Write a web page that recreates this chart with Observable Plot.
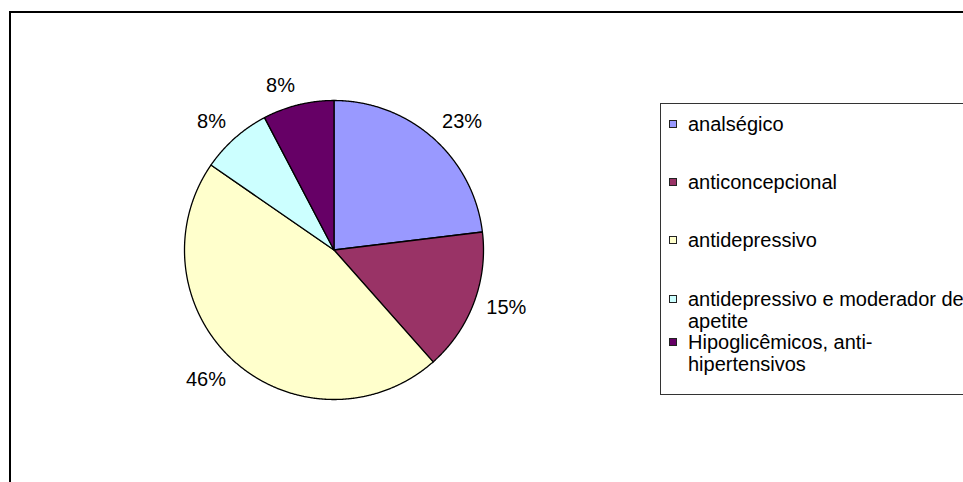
<!DOCTYPE html>
<html>
<head>
<meta charset="utf-8">
<script src="https://cdn.jsdelivr.net/npm/d3@7"></script>
<script src="https://cdn.jsdelivr.net/npm/@observablehq/plot@0.6"></script>
<style>
  html, body { margin: 0; padding: 0; background: #fff; overflow: hidden; width: 963px; height: 482px; }
  #wrap { position: relative; width: 963px; height: 482px; overflow: hidden; font-family: Arial, "Liberation Sans", sans-serif; }
  #chart { position: absolute; left: 0; top: 0; }
  #frame { position: absolute; left: 9px; top: 11px; width: 1000px; height: 520px; border: 2px solid #000; box-sizing: border-box; pointer-events: none; }
  #legend { position: absolute; left: 660px; top: 103px; width: 330px; height: 292px; border: 1px solid #333; box-sizing: border-box; background: #fff; }
  .entry { position: absolute; left: 27px; width: 285px; font-size: 20px; line-height: 22px; color: #000; }
  .sw { position: absolute; left: -19px; top: 6.5px; width: 8px; height: 8px; border: 1px solid #222; box-sizing: border-box; }
</style>
</head>
<body>
<div id="wrap">
  <div id="chart"></div>
  <div id="legend"></div>
  <div id="frame"></div>
</div>
<script>
const categories = ["analségico", "anticoncepcional", "antidepressivo", "antidepressivo e moderador de apetite", "Hipoglicêmicos, anti-hipertensivos"];
const counts = [3, 2, 6, 1, 1];
const colors = ["#9999FF", "#993366", "#FFFFCC", "#CCFFFF", "#660066"];

const total = d3.sum(counts);
const arcs = d3.pie().sort(null)(counts);

const slices = arcs.map((a, i) => {
  const ring = [[0, 0]];
  const n = Math.max(2, Math.ceil((a.endAngle - a.startAngle) / 0.005));
  for (let k = 0; k <= n; k++) {
    const t = a.startAngle + (a.endAngle - a.startAngle) * k / n;
    ring.push([Math.sin(t), Math.cos(t)]);
  }
  ring.push([0, 0]);
  return {type: "Feature", properties: {name: categories[i], color: colors[i]}, geometry: {type: "Polygon", coordinates: [ring]}};
});

const labelR = 1.09;
const labels = arcs.map((a, i) => {
  const m = (a.startAngle + a.endAngle) / 2;
  const s = Math.sin(m), c = Math.cos(m);
  return {
    x: labelR * s, y: labelR * c,
    text: Math.round(counts[i] / total * 100) + "%",
    ta: s >= 0 ? "start" : "end",
    la: c > 0.5 ? "bottom" : c < -0.5 ? "top" : "middle"
  };
});

const groups = d3.groups(labels, d => d.ta + "|" + d.la);
const textMarks = groups.map(([key, rows]) => Plot.text(rows, {
  x: "x", y: "y", text: "text",
  textAnchor: rows[0].ta, lineAnchor: rows[0].la,
  fontSize: 20, fill: "#000", clip: false
}));

const chart = Plot.plot({
  width: 963,
  height: 482,
  marginLeft: 184,
  marginRight: 480,
  marginTop: 100,
  marginBottom: 83,
  style: {background: "transparent", fontFamily: "Arial, 'Liberation Sans', sans-serif"},
  projection: {type: "reflect-y", clip: false, domain: {type: "FeatureCollection", features: slices}},
  marks: [
    Plot.geo(slices, {fill: d => d.properties.color, stroke: "#000", strokeWidth: 1.3}),
    ...textMarks
  ]
});
document.getElementById("chart").appendChild(chart);

// legend (HTML)
const entryTops = [9, 67, 125, 184, 227];
const legend = document.getElementById("legend");
categories.forEach((name, i) => {
  const e = document.createElement("div");
  e.className = "entry";
  e.style.top = entryTops[i] + "px";
  const sw = document.createElement("span");
  sw.className = "sw";
  sw.style.background = colors[i];
  e.appendChild(sw);
  e.appendChild(document.createTextNode(name));
  legend.appendChild(e);
});
</script>
</body>
</html>
